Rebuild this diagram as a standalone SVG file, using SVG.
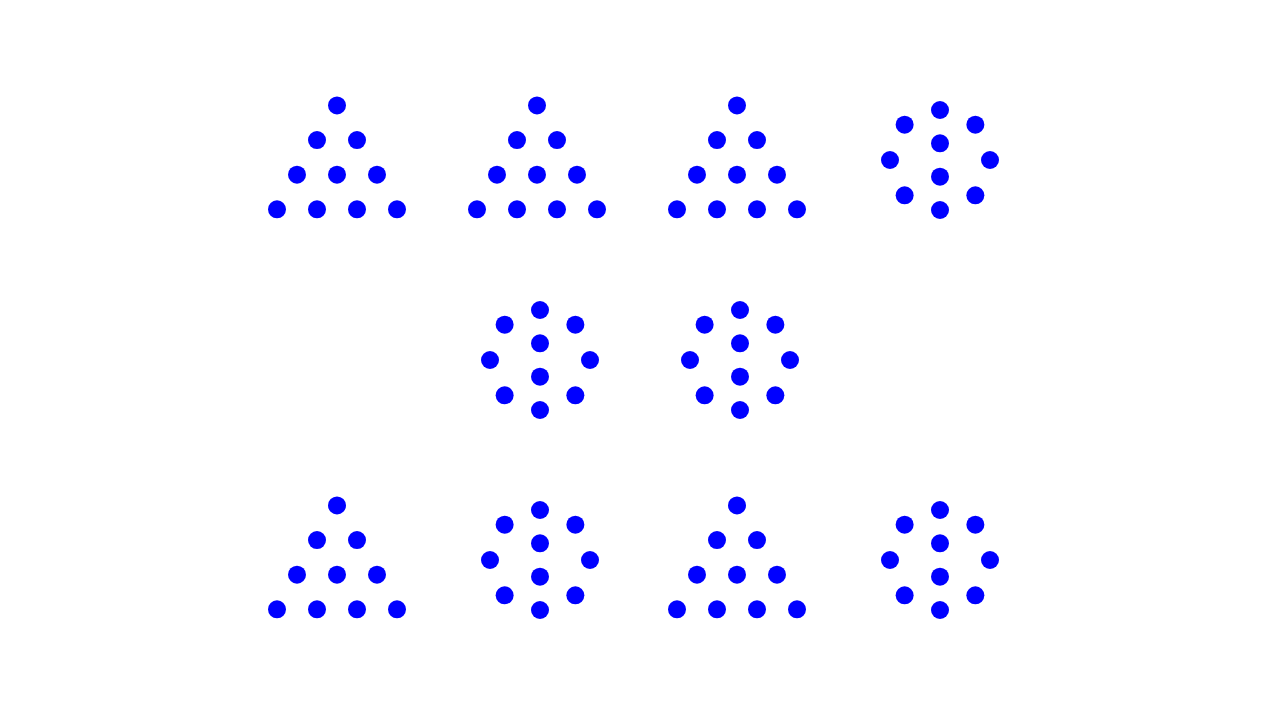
<svg xmlns="http://www.w3.org/2000/svg" xmlns:xlink="http://www.w3.org/1999/xlink" width="1280" height="720" viewBox="0 0 1280 720">
<style>.d{fill:#0000ff}</style>
<defs>
<g id="tri">
<circle class="d" cx="0" cy="0" r="9"/>
<circle class="d" cx="-20" cy="34.64" r="9"/><circle class="d" cx="20" cy="34.64" r="9"/>
<circle class="d" cx="-40" cy="69.28" r="9"/><circle class="d" cx="0" cy="69.28" r="9"/><circle class="d" cx="40" cy="69.28" r="9"/>
<circle class="d" cx="-60" cy="103.92" r="9"/><circle class="d" cx="-20" cy="103.92" r="9"/><circle class="d" cx="20" cy="103.92" r="9"/><circle class="d" cx="60" cy="103.92" r="9"/>
</g>
<g id="ring">
<circle class="d" cx="0" cy="-50" r="9"/>
<circle class="d" cx="-35.36" cy="-35.36" r="9"/><circle class="d" cx="35.36" cy="-35.36" r="9"/>
<circle class="d" cx="-50" cy="0" r="9"/><circle class="d" cx="50" cy="0" r="9"/>
<circle class="d" cx="-35.36" cy="35.36" r="9"/><circle class="d" cx="35.36" cy="35.36" r="9"/>
<circle class="d" cx="0" cy="50" r="9"/>
<circle class="d" cx="0" cy="-16.7" r="9"/><circle class="d" cx="0" cy="16.7" r="9"/>
</g>
</defs>
<rect width="1280" height="720" fill="#ffffff"/>
<g id="t1"><use href="#tri" xlink:href="#tri" x="337" y="105.4"/></g>
<g id="t2"><use href="#tri" xlink:href="#tri" x="537" y="105.4"/></g>
<g id="t3"><use href="#tri" xlink:href="#tri" x="737" y="105.4"/></g>
<g id="r1"><use href="#ring" xlink:href="#ring" x="940" y="160"/></g>
<g id="r2"><use href="#ring" xlink:href="#ring" x="540" y="360"/></g>
<g id="r3"><use href="#ring" xlink:href="#ring" x="740" y="360"/></g>
<g id="t4"><use href="#tri" xlink:href="#tri" x="337" y="505.4"/></g>
<g id="r4"><use href="#ring" xlink:href="#ring" x="540" y="560"/></g>
<g id="t5"><use href="#tri" xlink:href="#tri" x="737" y="505.4"/></g>
<g id="r5"><use href="#ring" xlink:href="#ring" x="940" y="560"/></g>
<g id="connectors"/>
</svg>
